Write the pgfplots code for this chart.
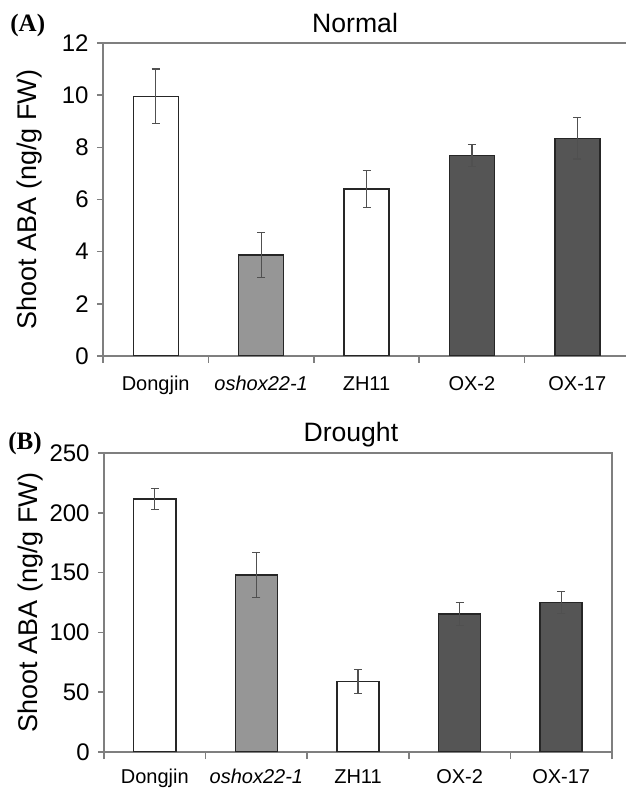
\documentclass[border=0pt]{standalone}
\usepackage{pgfplots}
\pgfplotsset{compat=1.18}
\usepackage{fontspec}
\setmainfont{Liberation Sans}
\newfontfamily\serifbf{Liberation Serif}
\definecolor{lgray}{HTML}{969696}
\definecolor{dgray}{HTML}{555555}
\definecolor{axgray}{HTML}{7F7F7F}
\definecolor{edge}{HTML}{262626}
\definecolor{ebar}{HTML}{505050}

\pgfplotsset{
  panel/.style={
    scale only axis,
    /pgf/number format/assume math mode=true,
    axis line style={axgray, line width=0.75pt},
    tick align=outside,
    ytick pos=left, xtick pos=bottom,
    xmin=-0.5,
    xtick={0,1,2,3,4},
    xticklabels={Dongjin,\textit{oshox22-1},ZH11,OX-2,OX-17},
    major x tick style={draw=none},
    minor xtick={-0.5,0.5,1.5,2.5,3.5,4.5},
    every tick/.append style={axgray, line width=0.75pt},
    major tick length=3pt, minor tick length=3.5pt,
    xticklabel style={font=\fontsize{10}{12}\selectfont, anchor=north, inner sep=0pt},
    yticklabel style={font=\fontsize{12}{14}\selectfont, anchor=east, inner sep=0pt, xshift=-4pt},
    ylabel={Shoot ABA (ng/g FW)},
    ylabel style={font=\fontsize{13.5}{16}\selectfont, at={([xshift=-30pt]axis description cs:0,0.5)}, anchor=south, inner sep=0pt},
    every axis title shift=0pt,
    title style={font=\fontsize{13.3}{16}\selectfont, anchor=base, inner sep=0pt},
    ymin=0,
  },
  barstyle/.style={ybar, bar shift=0pt, draw=edge, line width=0.7pt,
    error bars/.cd, y dir=both, y explicit,
    error bar style={ebar, line width=0.6pt},
    error mark options={rotate=90, ebar, mark size=2pt, line width=0.6pt}},
}

\begin{document}
\begin{tikzpicture}
% ---------- (A) Normal ----------
\begin{axis}[panel,
  at={(51.5pt,216pt)}, anchor=south west,
  width=261.5pt, height=156.5pt,
  xmax=4.462, ymax=12, ytick={0,2,...,12},
  axis x line*=box, axis y line*=left,
  xticklabel style={yshift=-7pt},
  title={Normal},
  title style={at={(axis description cs:0.482,1)}, yshift=5pt},
]
\addplot[bar width=22.5pt, fill=white, barstyle] table[x=x, y=y, y error=e]{
x y e
0 9.95 1.05
2 6.40 0.72
};
\addplot[bar width=22.5pt, fill=lgray, barstyle] table[x=x, y=y, y error=e]{
x y e
1 3.87 0.86
};
\addplot[bar width=22.5pt, fill=dgray, barstyle] table[x=x, y=y, y error=e]{
x y e
3 7.68 0.42
4 8.35 0.80
};
\end{axis}
% ---------- (B) Drought ----------
\begin{axis}[panel,
  at={(52pt,18pt)}, anchor=south west,
  width=254pt, height=149.5pt,
  xmax=4.5, ymax=250, ytick={0,50,...,250},
  xticklabel style={yshift=-5.5pt},
  title={Drought},
  title style={at={(axis description cs:0.486,1)}, yshift=6pt},
]
\addplot[bar width=21pt, fill=white, barstyle] table[x=x, y=y, y error=e]{
x y e
0 211.5 9
2 59 10
};
\addplot[bar width=21pt, fill=lgray, barstyle] table[x=x, y=y, y error=e]{
x y e
1 148 18.5
};
\addplot[bar width=21pt, fill=dgray, barstyle] table[x=x, y=y, y error=e]{
x y e
3 115.5 9.5
4 125 9
};
\end{axis}
\node[anchor=base west, inner sep=0pt, font=\serifbf\bfseries\fontsize{12.5}{14}\selectfont] at (5pt,378pt) {(A)};
\node[anchor=base west, inner sep=0pt, font=\serifbf\bfseries\fontsize{12.5}{14}\selectfont] at (4pt,169pt) {(B)};
\pgfresetboundingbox
\path[use as bounding box] (0,0) rectangle (313pt,394pt);
\end{tikzpicture}
\end{document}
